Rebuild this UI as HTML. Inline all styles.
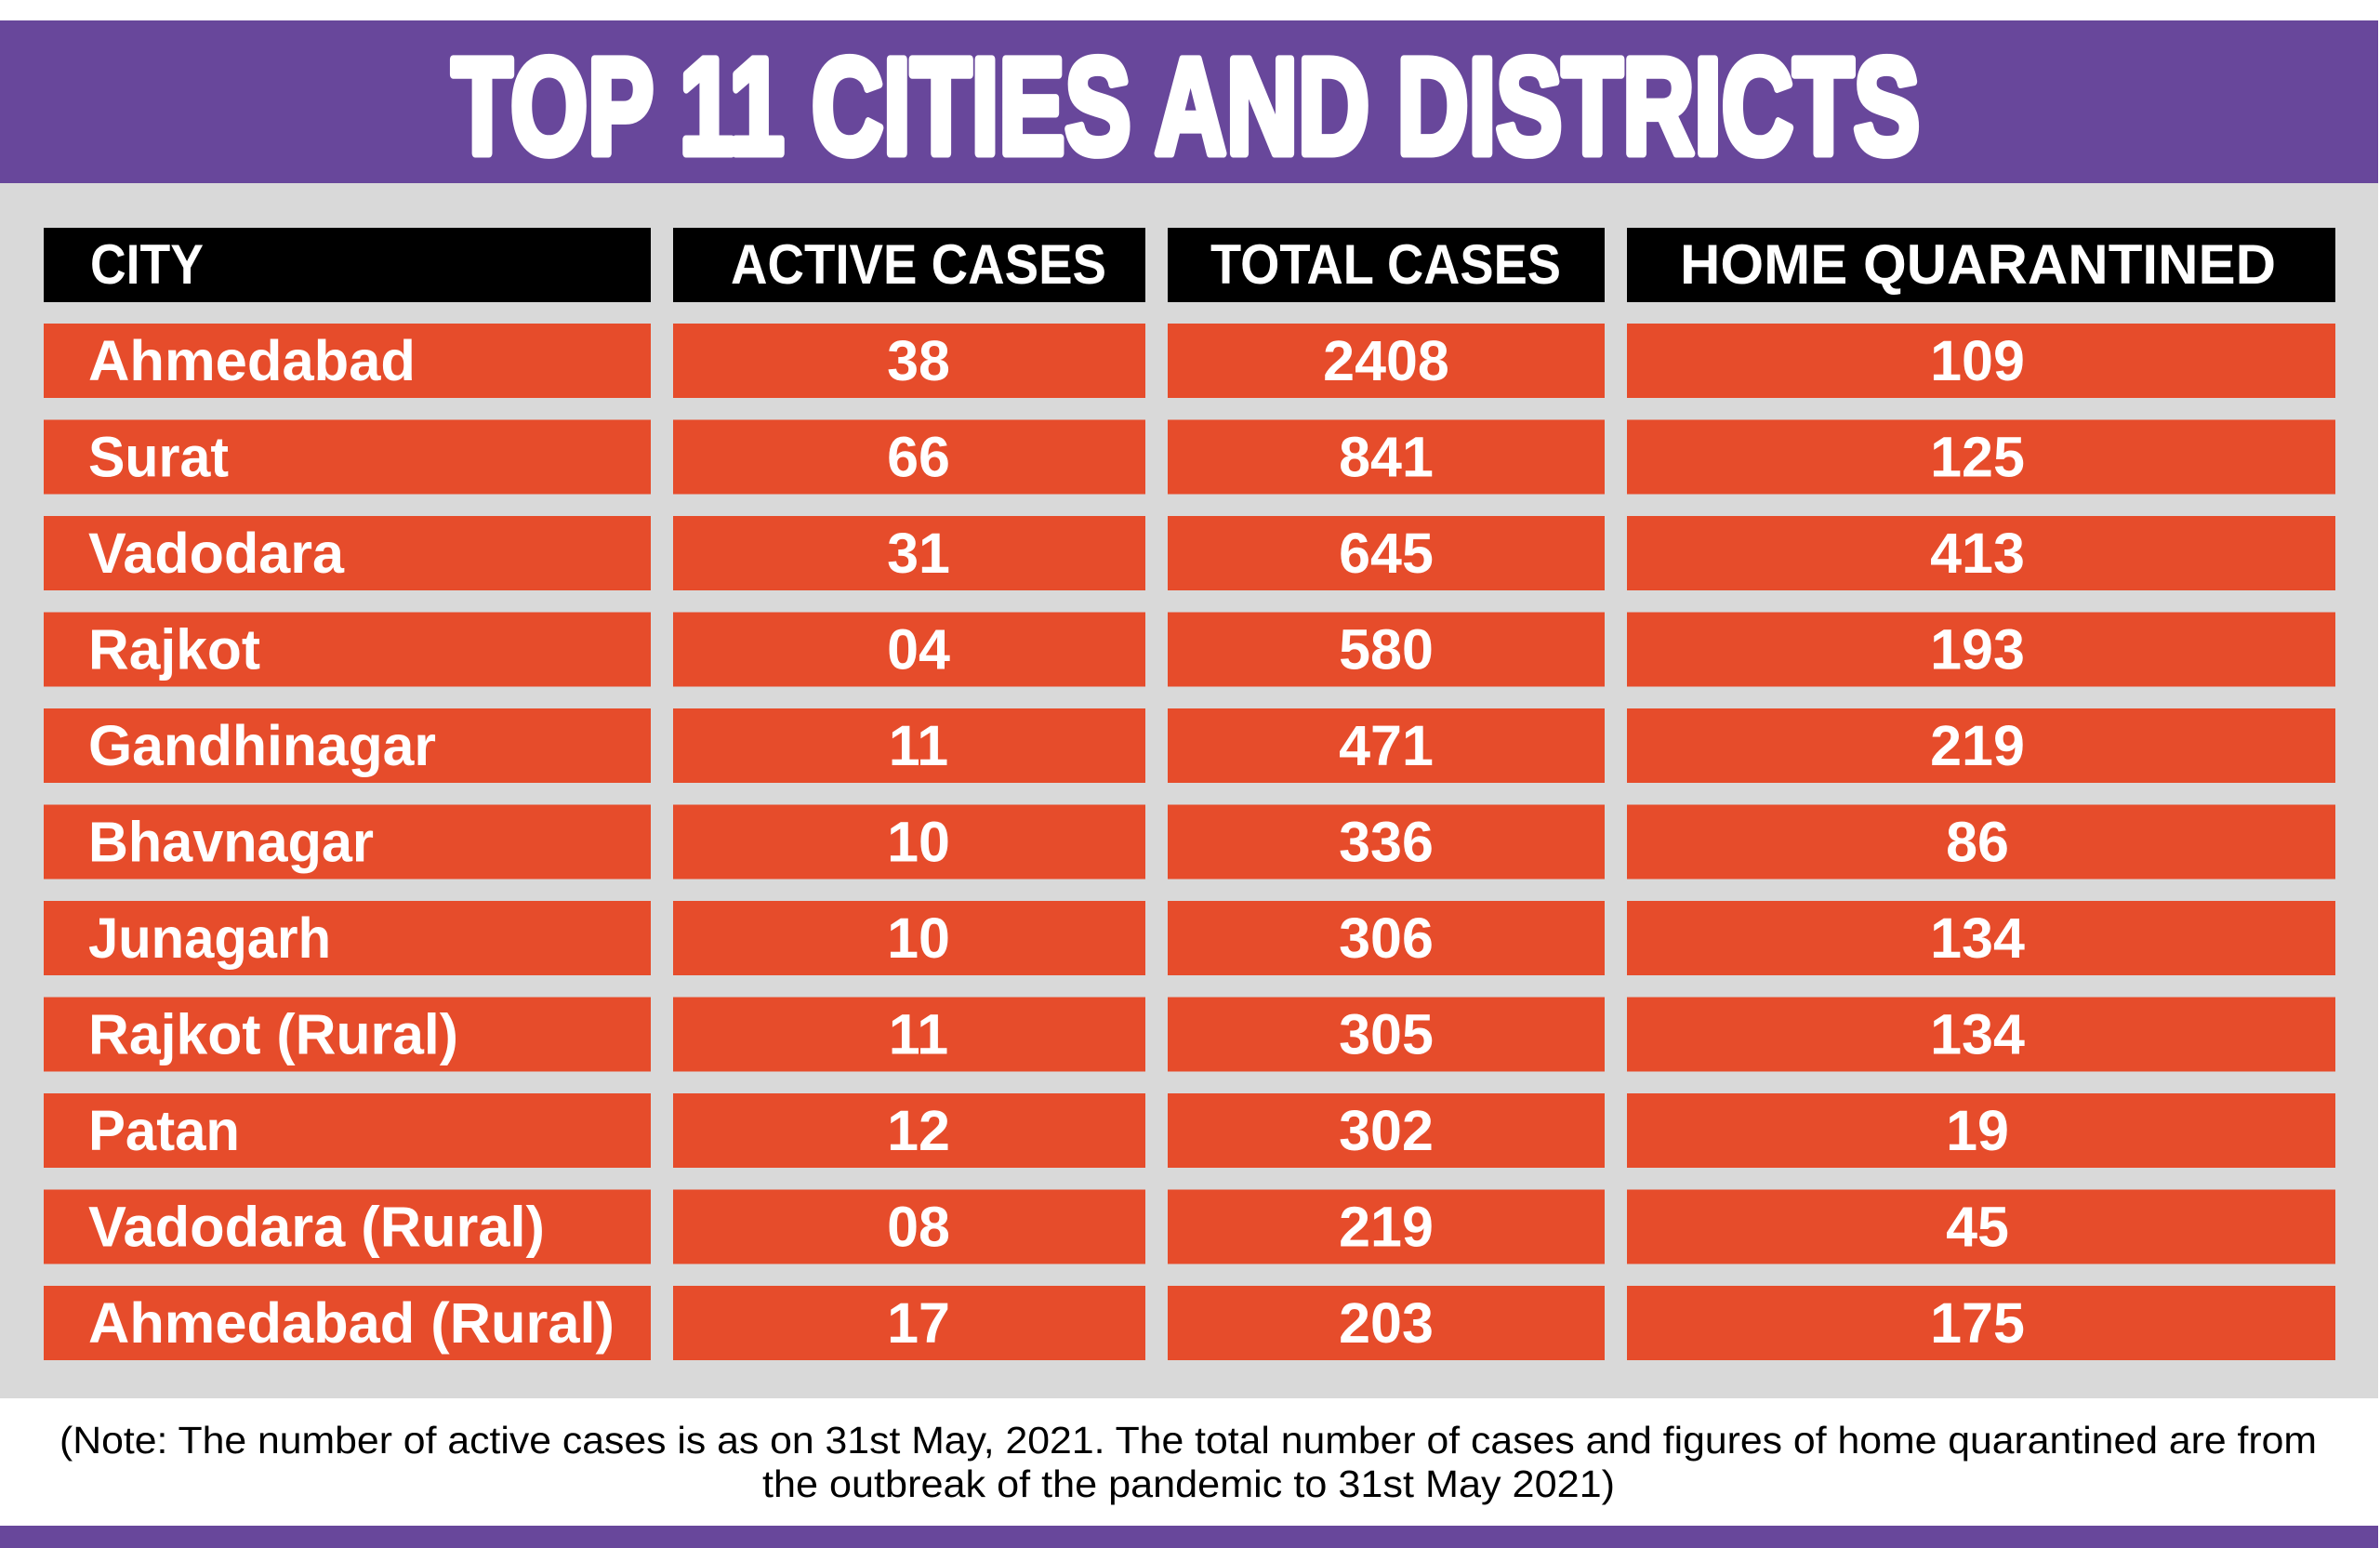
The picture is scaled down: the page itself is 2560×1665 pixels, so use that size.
<!DOCTYPE html>
<html>
<head>
<meta charset="utf-8">
<style>
  html, body { margin: 0; padding: 0; background: #ffffff; }
  svg { display: block; }
  .hd { font-family: "Liberation Sans", sans-serif; font-weight: bold; font-size: 60px; fill: #ffffff; }
  .rw { font-family: "Liberation Sans", sans-serif; font-weight: bold; font-size: 61px; fill: #ffffff; }
  .num { font-family: "Liberation Sans", sans-serif; font-weight: bold; font-size: 61px; fill: #ffffff; text-anchor: middle; }
  .note { font-family: "Liberation Sans", sans-serif; font-size: 41px; fill: #000000; }
  .title { font-family: "Liberation Sans", sans-serif; font-weight: bold; font-size: 147px; fill: #ffffff; stroke: #ffffff; stroke-width: 9; stroke-linejoin: round; }
</style>
</head>
<body>
<svg width="2560" height="1665" viewBox="0 0 2560 1665" xmlns="http://www.w3.org/2000/svg">
  <rect x="0" y="0" width="2560" height="1665" fill="#ffffff"/>
  <rect x="0" y="22" width="2558" height="175" fill="#68479b"/>
  <rect x="0" y="197" width="2558" height="1307" fill="#d9d9d9"/>
  <rect x="0" y="1641" width="2558" height="24" fill="#68479b"/>

  <text class="title" x="486" y="165" textLength="1579" lengthAdjust="spacingAndGlyphs">TOP 11 CITIES AND DISTRICTS</text>

  <rect x="47" y="245" width="653" height="80" fill="#000000"/>
  <rect x="724" y="245" width="508" height="80" fill="#000000"/>
  <rect x="1256" y="245" width="470" height="80" fill="#000000"/>
  <rect x="1750" y="245" width="762" height="80" fill="#000000"/>
  <text class="hd" x="97" y="305" textLength="122" lengthAdjust="spacingAndGlyphs">CITY</text>
  <text class="hd" x="786" y="305" textLength="404" lengthAdjust="spacingAndGlyphs">ACTIVE CASES</text>
  <text class="hd" x="1302" y="305" textLength="377" lengthAdjust="spacingAndGlyphs">TOTAL CASES</text>
  <text class="hd" x="1807" y="305" textLength="641" lengthAdjust="spacingAndGlyphs">HOME QUARANTINED</text>

  <g fill="#e64c2b">
    <rect x="47" y="348" width="653" height="80"/><rect x="724" y="348" width="508" height="80"/><rect x="1256" y="348" width="470" height="80"/><rect x="1750" y="348" width="762" height="80"/>
    <rect x="47" y="451.5" width="653" height="80"/><rect x="724" y="451.5" width="508" height="80"/><rect x="1256" y="451.5" width="470" height="80"/><rect x="1750" y="451.5" width="762" height="80"/>
    <rect x="47" y="555" width="653" height="80"/><rect x="724" y="555" width="508" height="80"/><rect x="1256" y="555" width="470" height="80"/><rect x="1750" y="555" width="762" height="80"/>
    <rect x="47" y="658.5" width="653" height="80"/><rect x="724" y="658.5" width="508" height="80"/><rect x="1256" y="658.5" width="470" height="80"/><rect x="1750" y="658.5" width="762" height="80"/>
    <rect x="47" y="762" width="653" height="80"/><rect x="724" y="762" width="508" height="80"/><rect x="1256" y="762" width="470" height="80"/><rect x="1750" y="762" width="762" height="80"/>
    <rect x="47" y="865.5" width="653" height="80"/><rect x="724" y="865.5" width="508" height="80"/><rect x="1256" y="865.5" width="470" height="80"/><rect x="1750" y="865.5" width="762" height="80"/>
    <rect x="47" y="969" width="653" height="80"/><rect x="724" y="969" width="508" height="80"/><rect x="1256" y="969" width="470" height="80"/><rect x="1750" y="969" width="762" height="80"/>
    <rect x="47" y="1072.5" width="653" height="80"/><rect x="724" y="1072.5" width="508" height="80"/><rect x="1256" y="1072.5" width="470" height="80"/><rect x="1750" y="1072.5" width="762" height="80"/>
    <rect x="47" y="1176" width="653" height="80"/><rect x="724" y="1176" width="508" height="80"/><rect x="1256" y="1176" width="470" height="80"/><rect x="1750" y="1176" width="762" height="80"/>
    <rect x="47" y="1279.5" width="653" height="80"/><rect x="724" y="1279.5" width="508" height="80"/><rect x="1256" y="1279.5" width="470" height="80"/><rect x="1750" y="1279.5" width="762" height="80"/>
    <rect x="47" y="1383" width="653" height="80"/><rect x="724" y="1383" width="508" height="80"/><rect x="1256" y="1383" width="470" height="80"/><rect x="1750" y="1383" width="762" height="80"/>
  </g>

  <text class="rw" x="95" y="409" textLength="352" lengthAdjust="spacingAndGlyphs">Ahmedabad</text>
  <text class="rw" x="95" y="512.5" textLength="151" lengthAdjust="spacingAndGlyphs">Surat</text>
  <text class="rw" x="95" y="616" textLength="275" lengthAdjust="spacingAndGlyphs">Vadodara</text>
  <text class="rw" x="95" y="719.5" textLength="185" lengthAdjust="spacingAndGlyphs">Rajkot</text>
  <text class="rw" x="95" y="823" textLength="374" lengthAdjust="spacingAndGlyphs">Gandhinagar</text>
  <text class="rw" x="95" y="926.5" textLength="307" lengthAdjust="spacingAndGlyphs">Bhavnagar</text>
  <text class="rw" x="95" y="1030" textLength="261" lengthAdjust="spacingAndGlyphs">Junagarh</text>
  <text class="rw" x="95" y="1133.5" textLength="398" lengthAdjust="spacingAndGlyphs">Rajkot (Rural)</text>
  <text class="rw" x="95" y="1237" textLength="163" lengthAdjust="spacingAndGlyphs">Patan</text>
  <text class="rw" x="95" y="1340.5" textLength="491" lengthAdjust="spacingAndGlyphs">Vadodara (Rural)</text>
  <text class="rw" x="95" y="1444" textLength="566" lengthAdjust="spacingAndGlyphs">Ahmedabad (Rural)</text>

  <text class="num" x="988" y="409">38</text>
  <text class="num" x="988" y="512.5">66</text>
  <text class="num" x="988" y="616">31</text>
  <text class="num" x="988" y="719.5">04</text>
  <text class="num" x="988" y="823">11</text>
  <text class="num" x="988" y="926.5">10</text>
  <text class="num" x="988" y="1030">10</text>
  <text class="num" x="988" y="1133.5">11</text>
  <text class="num" x="988" y="1237">12</text>
  <text class="num" x="988" y="1340.5">08</text>
  <text class="num" x="988" y="1444">17</text>

  <text class="num" x="1491" y="409">2408</text>
  <text class="num" x="1491" y="512.5">841</text>
  <text class="num" x="1491" y="616">645</text>
  <text class="num" x="1491" y="719.5">580</text>
  <text class="num" x="1491" y="823">471</text>
  <text class="num" x="1491" y="926.5">336</text>
  <text class="num" x="1491" y="1030">306</text>
  <text class="num" x="1491" y="1133.5">305</text>
  <text class="num" x="1491" y="1237">302</text>
  <text class="num" x="1491" y="1340.5">219</text>
  <text class="num" x="1491" y="1444">203</text>

  <text class="num" x="2127" y="409">109</text>
  <text class="num" x="2127" y="512.5">125</text>
  <text class="num" x="2127" y="616">413</text>
  <text class="num" x="2127" y="719.5">193</text>
  <text class="num" x="2127" y="823">219</text>
  <text class="num" x="2127" y="926.5">86</text>
  <text class="num" x="2127" y="1030">134</text>
  <text class="num" x="2127" y="1133.5">134</text>
  <text class="num" x="2127" y="1237">19</text>
  <text class="num" x="2127" y="1340.5">45</text>
  <text class="num" x="2127" y="1444">175</text>

  <text class="note" x="64" y="1563" textLength="2428" lengthAdjust="spacingAndGlyphs">(Note: The number of active cases is as on 31st May, 2021. The total number of cases and figures of home quarantined are from</text>
  <text class="note" x="820" y="1610" textLength="917" lengthAdjust="spacingAndGlyphs">the outbreak of the pandemic to 31st May 2021)</text>
</svg>
</body>
</html>
